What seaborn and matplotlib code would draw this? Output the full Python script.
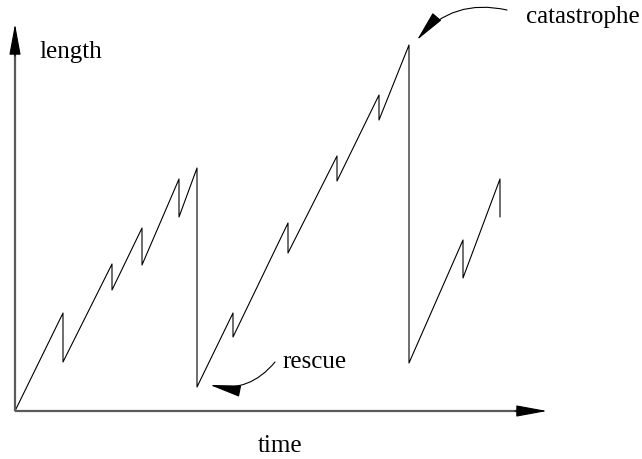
import matplotlib
matplotlib.use("Agg")
import matplotlib.pyplot as plt
import seaborn as sns
import pandas as pd

# Schematic microtubule length vs. time (dynamic instability)
time = [0, 48, 48, 97, 97, 127, 127, 164, 164, 182, 182, 218, 218, 273, 273,
        322, 322, 364, 364, 394, 394, 448, 448, 485, 485]
length = [0, 98, 49, 147, 121, 183, 146, 232, 194, 243, 24, 98, 74, 188, 158,
          255, 230, 316, 291, 366, 48, 171, 133, 232, 194]

x_label = "time"
y_label = "length"
rescue_label = "rescue"
catastrophe_label = "catastrophe"

sns.set_theme(style="white")
plt.rcParams["font.family"] = ["Liberation Serif", "DejaVu Serif"]

fig = plt.figure(figsize=(6.42, 4.59), dpi=100)
ax = fig.add_axes([0, 0, 1, 1])

df = pd.DataFrame({"time": time, "length": length})
sns.lineplot(data=df, x="time", y="length", sort=False, estimator=None,
             color="black", lw=0.8, ax=ax)

ax.set_xlim(-15, 627)
ax.set_ylim(-48, 411)
ax.axis("off")

head = "-|>,head_length=1.95,head_width=0.36"

# axes with arrows
ax.plot([0, 515], [0, 0], color="#5a5a5a", lw=1.6, solid_capstyle="butt")
ax.plot([0, 0], [0, 370], color="#5a5a5a", lw=1.6, solid_capstyle="butt")
ax.annotate("", xy=(532, 0), xytext=(500, 0),
            arrowprops=dict(arrowstyle=head, color="black", lw=0.8,
                            shrinkA=0, shrinkB=0, mutation_scale=10))
ax.annotate("", xy=(0, 387), xytext=(0, 355),
            arrowprops=dict(arrowstyle=head, color="black", lw=0.8,
                            shrinkA=0, shrinkB=0, mutation_scale=10))

# curved annotation arrows
ax.annotate("", xy=(195, 26), xytext=(260, 49),
            arrowprops=dict(arrowstyle=head, color="black", lw=0.8,
                            shrinkA=0, shrinkB=0, mutation_scale=10,
                            connectionstyle="arc3,rad=-0.3"))
ax.annotate("", xy=(402, 371), xytext=(492, 401),
            arrowprops=dict(arrowstyle=head, color="black", lw=0.8,
                            shrinkA=0, shrinkB=0, mutation_scale=10,
                            connectionstyle="arc3,rad=0.3"))

fs = 18
ax.text(24, 353, y_label, fontsize=fs, ha="left", va="baseline", color="black")
ax.text(243, -41, x_label, fontsize=fs, ha="left", va="baseline", color="black")
ax.text(267, 43, rescue_label, fontsize=fs, ha="left", va="baseline", color="black")
ax.text(511, 388, catastrophe_label, fontsize=fs, ha="left", va="baseline", color="black")

fig.savefig("out.png", dpi=100)
